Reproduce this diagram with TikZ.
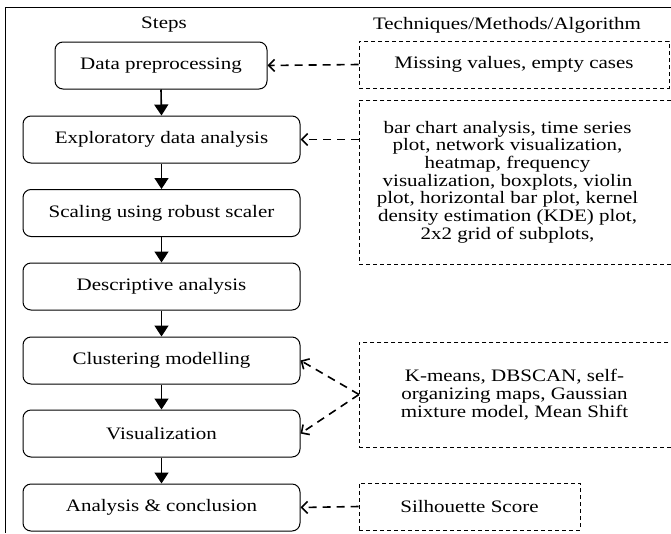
\documentclass[tikz,border=0pt]{standalone}
\usepackage{fontspec}
\setmainfont{Liberation Serif}[FakeStretch=1.2]
\usetikzlibrary{arrows.meta}
\begin{document}
\begin{tikzpicture}[x=1pt,y=-1pt,
  every node/.style={font=\fontsize{17.5}{17.7}\selectfont},
  stepbox/.style={draw, line width=1pt, rounded corners=8pt, minimum height=47pt, inner sep=0pt},
  techbox/.style={draw, line width=0.9pt, dash pattern=on 4pt off 3pt, inner sep=0pt},
  techtext/.style={align=center},
  flow/.style={line width=1.6pt, -{Triangle[length=11pt,width=14pt]}},
  link/.style={line width=1.6pt, dash pattern=on 8pt off 6pt, -{Straight Barb[length=6pt,width=12pt,line width=1.6pt]}}
]
\useasboundingbox (0,0) rectangle (671,533);
% outer frame (clipped)
\draw[line width=1pt] (671,7) -- (5,7) -- (5,533);
\node (h1) at (164,25) {Steps};
\node (h2) at (507,25) {Techniques/Methods/Algorithm};
% steps
\node[stepbox, minimum width=212pt] (b1) at (161,65.5) {Data preprocessing};
\node[stepbox, minimum width=277pt] (b2) at (161.5,139.5) {Exploratory data analysis};
\node[stepbox, minimum width=277pt] (b3) at (161.5,213) {Scaling using robust scaler};
\node[stepbox, minimum width=277pt] (b4) at (161.5,286.5) {Descriptive analysis};
\node[stepbox, minimum width=277pt] (b5) at (161.5,360.5) {Clustering modelling};
\node[stepbox, minimum width=277pt] (b6) at (161.5,433.5) {Visualization};
\node[stepbox, minimum width=277pt] (b7) at (161.5,507.5) {Analysis \& conclusion};
\foreach \a/\b in {b1/b2,b2/b3,b3/b4,b4/b5,b5/b6,b6/b7}
  \draw[flow] (\a.south) -- (\b.north);
% techniques
\node[techbox, minimum width=310pt, minimum height=47pt] (r1) at (514,64.5) {};
\node[techtext] (t1) at (514,64.5) {Missing values, empty cases};
\node[techbox, anchor=west, minimum width=340pt, minimum height=164pt] (r2) at (359,182) {};
\node[techtext] (t2) at (507.5,182) {bar chart analysis, time series\\plot, network visualization,\\heatmap, frequency\\visualization, boxplots, violin\\plot, horizontal bar plot, kernel\\density estimation (KDE) plot,\\2x2 grid of subplots,};
\node[techbox, anchor=west, minimum width=340pt, minimum height=105pt] (r3) at (359,394.5) {};
\node[techtext] (t3) at (514.5,394.5) {K-means, DBSCAN, self-\\organizing maps, Gaussian\\mixture model, Mean Shift};
\node[techbox, minimum width=221pt, minimum height=47pt] (r4) at (469.5,506.5) {};
\node[techtext] (t4) at (469.5,506.5) {Silhouette Score};
\coordinate (c2) at (r2.west |- b2.east);
\draw[link] (r1.west) -- (b1.east);
\draw[link] (c2) -- (b2.east);
\draw[link] (r3.west) -- (b5.east);
\draw[link] (r3.west) -- (b6.east);
\draw[link] (r4.west) -- (b7.east);
\end{tikzpicture}
\end{document}
